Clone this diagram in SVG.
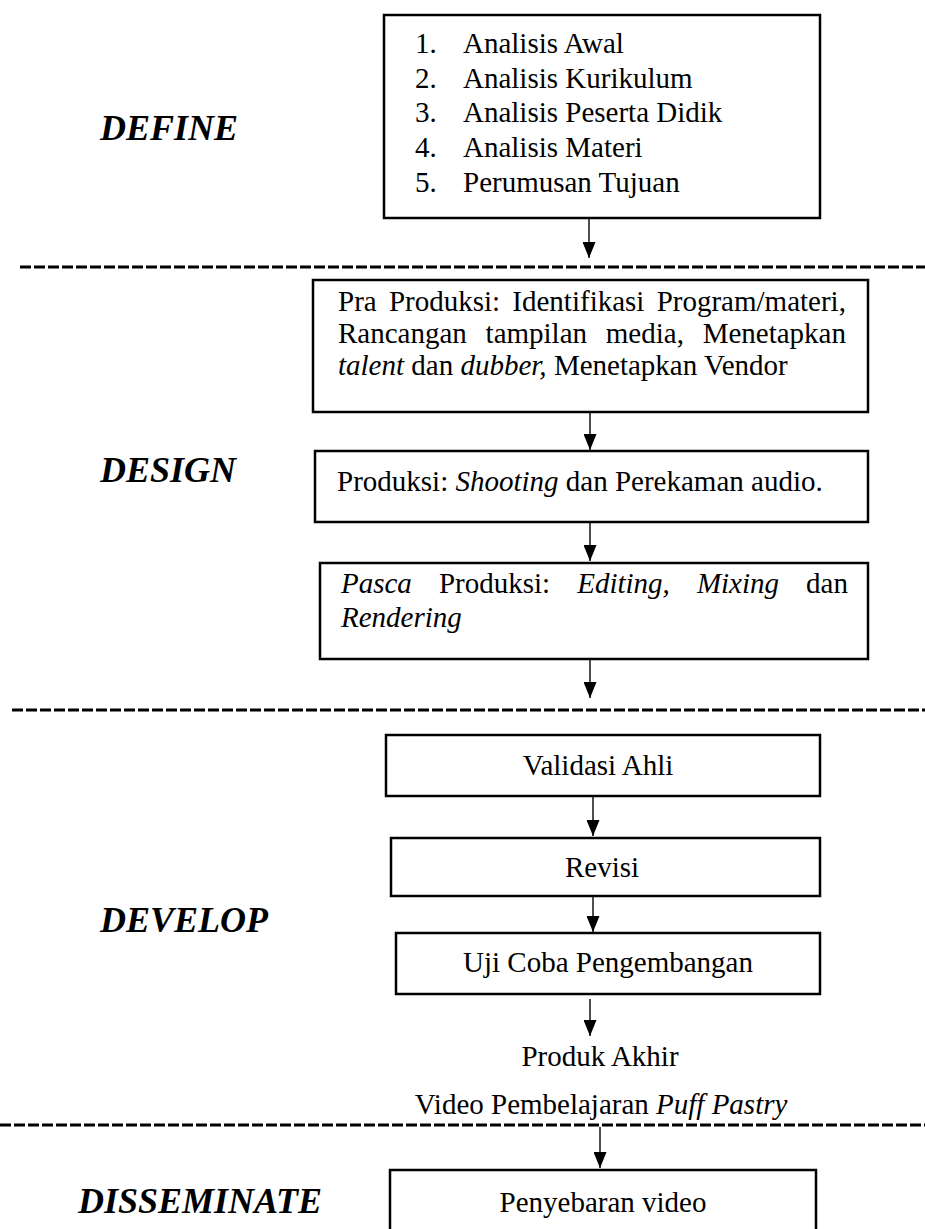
<svg xmlns="http://www.w3.org/2000/svg" width="925" height="1229" viewBox="0 0 925 1229">
<style>
text{font-family:"Liberation Serif","Times New Roman",serif;font-size:29px;fill:#000}
.lbl{font-weight:bold;font-style:italic;font-size:36px}
.box{fill:#fff;stroke:#000;stroke-width:2.5}
.con{stroke:#222;stroke-width:1.6;fill:none}
.dash{stroke:#000;stroke-width:3;stroke-dasharray:11 3;fill:none}
.i{font-style:italic}
.c{text-anchor:middle}
</style>
<defs>
<marker id="ah" viewBox="0 0 16 13" refX="16" refY="6.5" markerWidth="16" markerHeight="13" markerUnits="userSpaceOnUse" orient="auto">
<path d="M0,0 L16,6.5 L0,13 z" fill="#000"/>
</marker>
</defs>
<rect width="925" height="1229" fill="#fff"/>

<g id="phase-labels">
<text class="lbl" x="100" y="140">DEFINE</text>
<text class="lbl" x="100" y="482">DESIGN</text>
<text class="lbl" x="100" y="932">DEVELOP</text>
<text class="lbl" x="78" y="1213">DISSEMINATE</text>
</g>

<g id="separators">
<line class="dash" x1="20" y1="267" x2="925" y2="267"/>
<line class="dash" x1="12" y1="710" x2="925" y2="710"/>
<line class="dash" x1="0" y1="1125" x2="925" y2="1125"/>
</g>

<g id="connectors">
<line class="con" x1="589" y1="219" x2="589" y2="258" marker-end="url(#ah)"/>
<line class="con" x1="590" y1="413" x2="590" y2="450" marker-end="url(#ah)"/>
<line class="con" x1="590" y1="523" x2="590" y2="561" marker-end="url(#ah)"/>
<line class="con" x1="590" y1="660" x2="590" y2="698" marker-end="url(#ah)"/>
<line class="con" x1="593" y1="797" x2="593" y2="836" marker-end="url(#ah)"/>
<line class="con" x1="593" y1="897" x2="593" y2="932" marker-end="url(#ah)"/>
<line class="con" x1="590" y1="999" x2="590" y2="1036" marker-end="url(#ah)"/>
<line class="con" x1="600" y1="1127" x2="600" y2="1168" marker-end="url(#ah)"/>
</g>

<g id="define-box">
<rect class="box" x="384" y="15" width="436" height="203"/>
<text x="415" y="53">1.</text><text x="463" y="53">Analisis Awal</text>
<text x="415" y="88">2.</text><text x="463" y="88">Analisis Kurikulum</text>
<text x="415" y="122">3.</text><text x="463" y="122">Analisis Peserta Didik</text>
<text x="415" y="157">4.</text><text x="463" y="157">Analisis Materi</text>
<text x="415" y="192">5.</text><text x="463" y="192">Perumusan Tujuan</text>
</g>

<g id="pra-produksi">
<rect class="box" x="313" y="280" width="555" height="132"/>
<text x="338" y="311" word-spacing="5">Pra Produksi: Identifikasi Program/materi,</text>
<text x="338" y="343" word-spacing="11.5">Rancangan tampilan media, Menetapkan</text>
<text x="338" y="375"><tspan class="i">talent</tspan> dan <tspan class="i">dubber,</tspan> Menetapkan Vendor</text>
</g>

<g id="produksi">
<rect class="box" x="315" y="451" width="553" height="71"/>
<text x="337" y="491">Produksi: <tspan class="i">Shooting</tspan> dan Perekaman audio.</text>
</g>

<g id="pasca-produksi">
<rect class="box" x="320" y="563" width="548" height="96"/>
<text x="341" y="593" word-spacing="19.8"><tspan class="i">Pasca</tspan> Produksi: <tspan class="i">Editing,</tspan> <tspan class="i">Mixing</tspan> dan</text>
<text x="341" y="627" class="i">Rendering</text>
</g>

<g id="validasi-ahli">
<rect class="box" x="386" y="735" width="434" height="61"/>
<text class="c" x="598" y="775">Validasi Ahli</text>
</g>

<g id="revisi">
<rect class="box" x="391" y="838" width="429" height="58"/>
<text class="c" x="602" y="877">Revisi</text>
</g>

<g id="uji-coba">
<rect class="box" x="396" y="933" width="424" height="61"/>
<text class="c" x="608" y="972">Uji Coba Pengembangan</text>
</g>

<g id="produk-akhir">
<text class="c" x="600" y="1066">Produk Akhir</text>
<text class="c" x="601" y="1114">Video Pembelajaran <tspan class="i">Puff Pastry</tspan></text>
</g>

<g id="penyebaran-video">
<rect class="box" x="390" y="1170" width="426" height="80"/>
<text class="c" x="603" y="1212">Penyebaran video</text>
</g>
</svg>
